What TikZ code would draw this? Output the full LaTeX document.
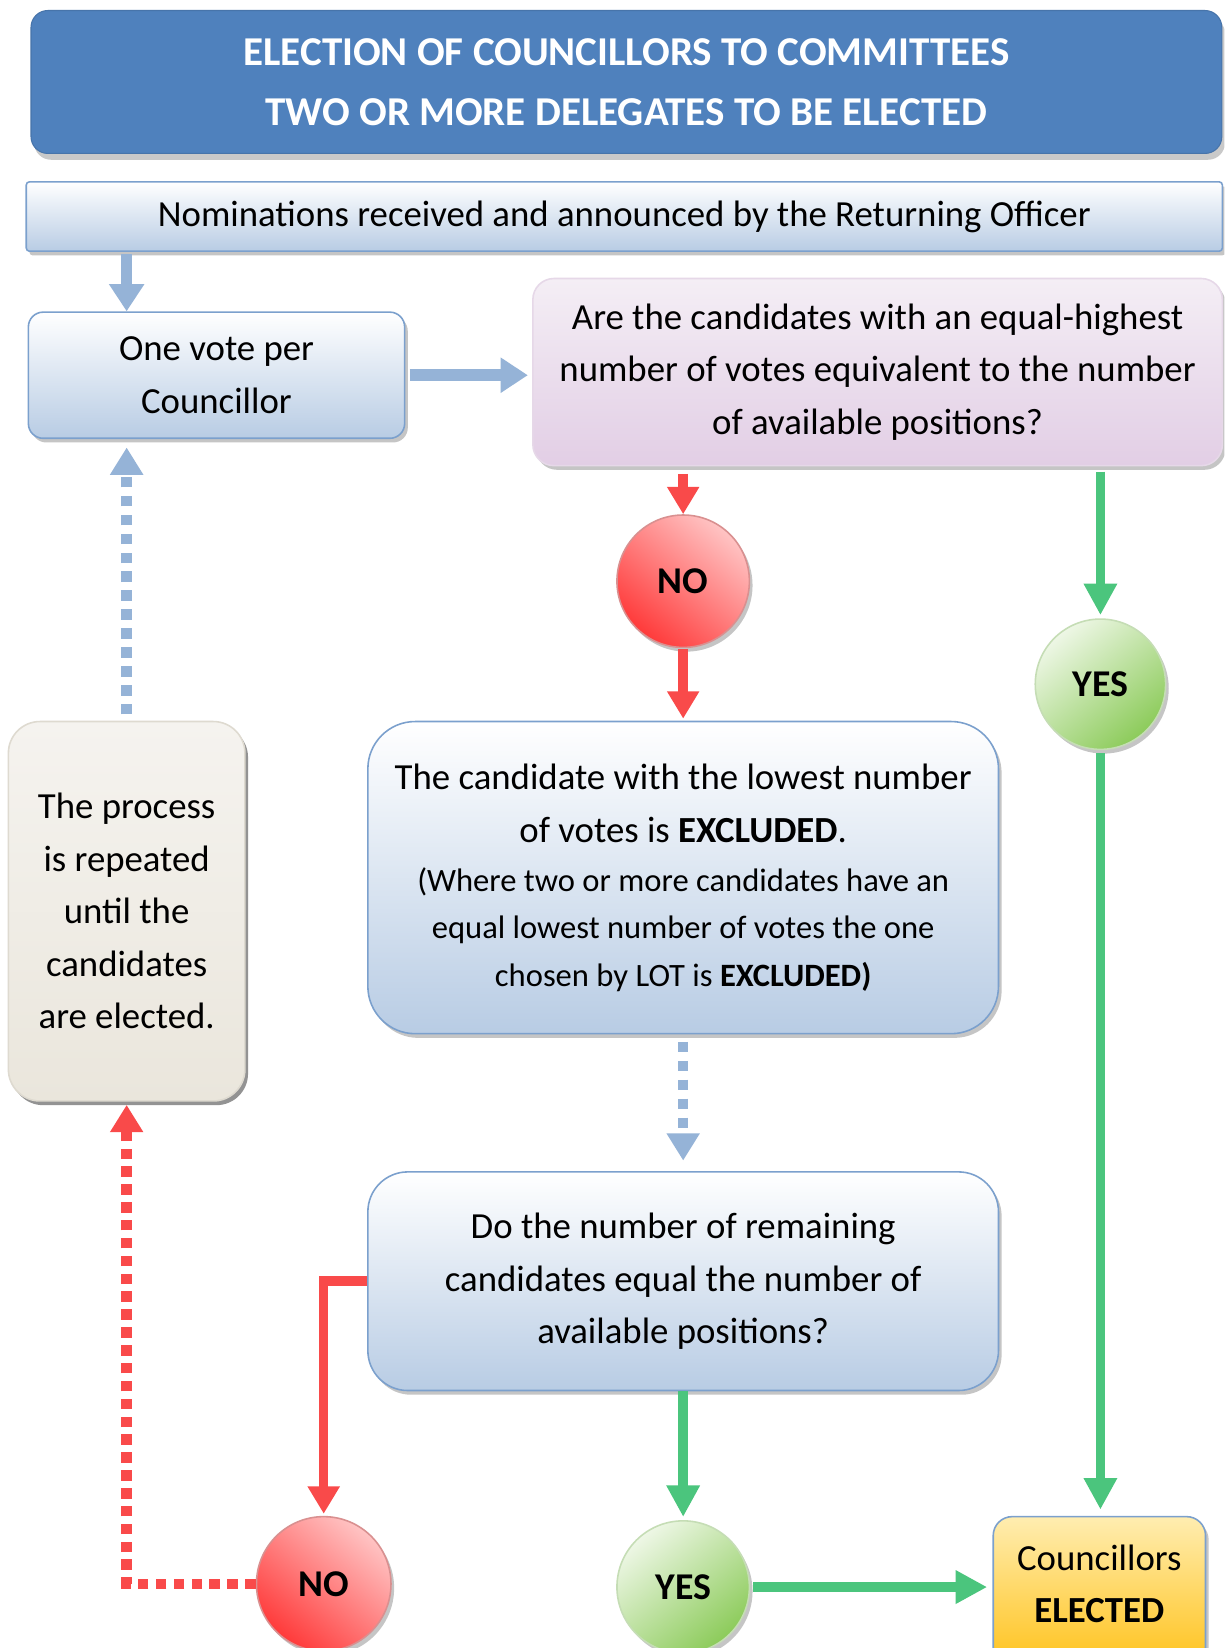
\documentclass[tikz,border=0pt]{standalone}
\usepackage{fontspec}
\setmainfont{Carlito}
\usetikzlibrary{arrows.meta,shadows,calc}
\definecolor{titleblue}{HTML}{4F81BD}
\definecolor{lineblue}{HTML}{95B3D7}
\definecolor{edgeblue}{HTML}{7BA0CD}
\definecolor{boxblue}{HTML}{B8CCE4}
\definecolor{redline}{HTML}{F94A4A}
\definecolor{greenline}{HTML}{4BC57D}
\definecolor{lavtop}{HTML}{F4EEF5}
\definecolor{lavbot}{HTML}{E2CEE5}
\definecolor{lavedge}{HTML}{E6D8E8}
\definecolor{beigetop}{HTML}{F5F3EF}
\definecolor{beigebot}{HTML}{EAE6DC}
\definecolor{beigeedge}{HTML}{DEDAD0}
\definecolor{orangetop}{HTML}{FFEDB0}
\definecolor{orangebot}{HTML}{FFC21A}
\definecolor{redlight}{HTML}{FFC4C4}
\definecolor{reddark}{HTML}{FF3A3A}
\definecolor{rededge}{HTML}{D99090}
\definecolor{greenlight}{HTML}{EEF7E6}
\definecolor{greendark}{HTML}{8CCB5A}
\definecolor{greenedge}{HTML}{C5DDB5}
\begin{document}
\begin{tikzpicture}[x=1pt,y=-1pt,
  txt/.style={font=\fontsize{35}{50}\selectfont, align=center, text=black, inner sep=0pt},
  shadowed/.style={drop shadow={shadow xshift=3pt, shadow yshift=-4pt, fill=black!50, opacity=0.45}},
  bluebox/.style={rectangle, rounded corners=#1, draw=edgeblue, line width=1.5pt, top color=white, bottom color=boxblue, shadowed, txt},
  lavbox/.style={rectangle, rounded corners=20pt, draw=lavedge, line width=1.5pt, top color=lavtop, bottom color=lavbot, shadowed, txt},
  beigebox/.style={rectangle, rounded corners=30pt, draw=beigeedge, line width=1.5pt, top color=beigetop, bottom color=beigebot, drop shadow={shadow xshift=3pt, shadow yshift=-4pt, fill=black!70, opacity=0.6}, txt},
  orangebox/.style={rectangle, rounded corners=18pt, draw=edgeblue, line width=1.5pt, top color=orangetop, bottom color=orangebot, shadowed, txt},
  nocircle/.style={circle, draw=rededge, line width=1.5pt, top color=redlight, bottom color=reddark, shading angle=-40, shadowed, txt, font=\fontsize{36}{40}\selectfont\bfseries},
  yescircle/.style={circle, draw=greenedge, line width=1.5pt, top color=greenlight, bottom color=greendark, shading angle=40, shadowed, txt, font=\fontsize{36}{40}\selectfont\bfseries},
  bluearr/.style={draw=lineblue, line width=11pt, -{Triangle[width=32pt,length=26pt]}},
  bluedots/.style={draw=lineblue, line width=10pt, dash pattern=on 10pt off 8pt, -{Triangle[width=30pt,length=26pt]}},
  redarr/.style={draw=redline, line width=9pt, -{Triangle[width=29pt,length=26pt]}},
  reddots/.style={draw=redline, line width=10pt, dash pattern=on 10pt off 7pt, -{Triangle[width=30pt,length=26pt]}},
  greenarr/.style={draw=greenline, line width=9pt, -{Triangle[width=30pt,length=30pt]}}
]
\useasboundingbox (0,0) rectangle (1165,1568);
\fill[white] (0,0) rectangle (1165,1568);
\clip (0,0) rectangle (1165,1568);

% title
\node[rectangle, rounded corners=16pt, fill=titleblue, draw=titleblue!90!black, line width=1pt,
  minimum width=1133pt, minimum height=136pt, inner sep=0pt, align=center, text=white,
  font=\fontsize{39}{57}\selectfont\bfseries,
  drop shadow={shadow xshift=3pt, shadow yshift=-6pt, fill=black!35, opacity=0.6}] (title) at (596,78)
  {ELECTION OF COUNCILLORS TO COMMITTEES\\TWO OR MORE DELEGATES TO BE ELECTED};

% nominations
\node[bluebox=3pt, minimum width=1138pt, minimum height=66pt] (nomin) at (594,206)
  {Nominations received and announced by the Returning Officer};

% vote
\node[bluebox=14pt, minimum width=358pt, minimum height=120pt] (vote) at (206,357)
  {One vote per\\Councillor};

% question 1
\node[lavbox, minimum width=656pt, minimum height=178pt] (q1) at (835,354)
  {Are the candidates with an equal-highest\\number of votes equivalent to the number\\of available positions?};

% NO 1 / YES 1
\node[nocircle, minimum size=126pt] (no1) at (650,553) {NO};
\node[yescircle, minimum size=124pt] (yes1) at (1047,651) {YES};

% excluded
\node[bluebox=45pt, minimum width=600pt, minimum height=297pt] (excl) at (650,835)
  {The candidate with the lowest number\\of votes is \textbf{EXCLUDED}.\\[-3pt]
   {\fontsize{31}{45}\selectfont (Where two or more candidates have an}\\[-5pt]
   {\fontsize{31}{45}\selectfont equal lowest number of votes the one}\\[-5pt]
   {\fontsize{31}{45}\selectfont chosen by LOT is \textbf{EXCLUDED)}}};

% process
\node[beigebox, minimum width=225pt, minimum height=361pt] (proc) at (120.5,867)
  {The process\\is repeated\\until the\\candidates\\are elected.};

% question 2
\node[bluebox=38pt, minimum width=600pt, minimum height=208pt] (q2) at (650,1219)
  {Do the number of remaining\\candidates equal the number of\\available positions?};

% NO 2 / YES 2
\node[nocircle, minimum size=128pt] (no2) at (308,1507) {NO};
\node[yescircle, minimum size=126pt] (yes2) at (650,1510) {YES};

% elected
\node[orangebox, minimum width=202pt, minimum height=144pt] (elect) at (1046,1515) {};
\node[txt] (electtxt) at ($(elect.center)+(0,-8)$) {Councillors\\\textbf{ELECTED}};

% connectors
\draw[bluearr, shorten <=2pt] (nomin.south -| proc) -- (vote.north -| proc);
\draw[bluearr, shorten <=4pt, shorten >=4pt] (vote.east) -- (q1.west |- vote);
\draw[redarr, shorten <=7pt] (q1.south -| no1) -- (no1.north);
\draw[redarr, shorten <=1pt, shorten >=2pt] (no1.south) -- (excl.north);
\draw[greenarr, shorten <=5pt, shorten >=3pt] (q1.south -| yes1) -- (yes1.north);
\draw[greenarr, shorten <=3pt, shorten >=6pt] (yes1.south) -- (elect.north -| yes1);
\draw[bluedots, shorten <=7pt, shorten >=10pt] (excl.south) -- (q2.north);
\draw[redarr, shorten >=2pt] (q2.west) -| (no2.north);
\draw[reddots, shorten >=3pt] (no2.west) -| (proc.south);
\draw[bluedots, shorten <=6pt, shorten >=8pt] (proc.north) -- (vote.south -| proc);
\draw[greenarr, shorten >=3pt] (q2.south) -- (yes2.north);
\draw[greenarr, shorten <=3pt, shorten >=5pt] (yes2.east) -- (elect.west |- yes2);
\end{tikzpicture}
\end{document}
